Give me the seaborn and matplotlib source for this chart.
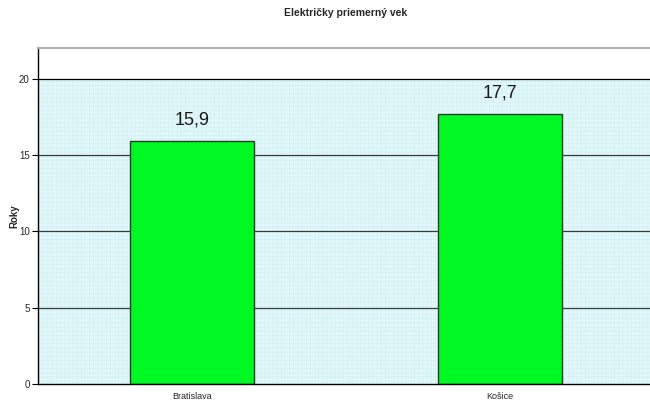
import matplotlib
matplotlib.use("Agg")
import matplotlib.pyplot as plt
import seaborn as sns
import pandas as pd

# Average tram age per city
cities = ["Bratislava", "Košice"]
avg_age = [15.9, 17.7]

title = "Električky priemerný vek"
y_label = "Roky"
y_ticks = [0, 5, 10, 15, 20]

df = pd.DataFrame({"mesto": cities, "vek": avg_age})

sns.set_style("white")
plt.rcParams["font.family"] = ["Liberation Sans", "DejaVu Sans"]
plt.rcParams["hatch.linewidth"] = 0.4

fig = plt.figure(figsize=(6.5, 4.01), dpi=100)
ax = fig.add_axes([0.0585, 0.0424, 0.9475, 0.8376])

# light cyan plotting band with a fine texture up to the top tick
ax.axhspan(0, 20, facecolor="#e2f7f9", edgecolor="#cdf0f3", linewidth=0,
           hatch="++++", zorder=0)

for yv in y_ticks[1:]:
    ax.axhline(yv, color="#3a3a3a" if yv < 20 else "black", lw=0.9, zorder=1)

sns.barplot(data=df, x="mesto", y="vek", color="#00f923", width=0.4,
            edgecolor="#2a3a2a", linewidth=1.0, saturation=1, ax=ax, zorder=2)

for cont in ax.containers:
    ax.bar_label(cont, labels=[f"{v:.1f}".replace(".", ",") for v in cont.datavalues],
                 padding=9, fontsize=13, color="#1a1a1a")

ax.set_xlim(-0.5, 1.5)
ax.set_ylim(0, 22)
ax.set_yticks(y_ticks)
ax.set_yticklabels([str(t) for t in y_ticks], fontsize=7)
ax.set_xticks([0, 1])
ax.set_xticklabels(cities, fontsize=6.5)
ax.set_xticks([-0.5, 0.5, 1.5], minor=True)
ax.tick_params(axis="x", which="major", length=0, pad=6)
ax.tick_params(axis="x", which="minor", length=4, width=0.8, direction="out", color="black")
ax.tick_params(axis="y", length=4, width=0.8, direction="out", color="black", pad=2, left=True)

ax.set_xlabel("")
ax.set_ylabel(y_label, fontsize=7, fontweight="bold")
ax.yaxis.set_label_coords(-0.031, 0.5)
ax.set_title(title, fontsize=7.5, fontweight="bold", pad=23)

for side in ["left", "bottom"]:
    ax.spines[side].set_color("black")
    ax.spines[side].set_linewidth(1.0)
ax.spines["top"].set_color("#b0b0b0")
ax.spines["top"].set_linewidth(1.5)
ax.spines["right"].set_visible(False)

fig.savefig("out.png", dpi=100)
